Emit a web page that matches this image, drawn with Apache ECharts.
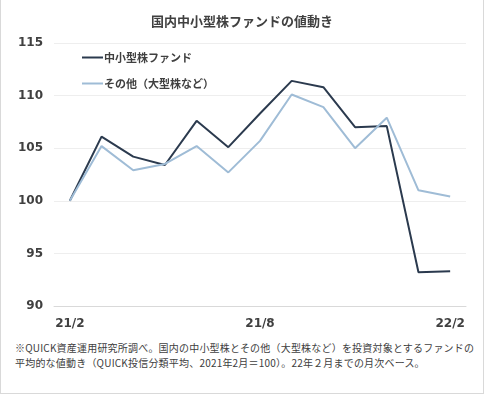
<!DOCTYPE html>
<html><head><meta charset="utf-8">
<script src="https://cdn.jsdelivr.net/npm/echarts@6/dist/echarts.min.js"></script>
<style>
html,body{margin:0;padding:0;background:#fff;}
#wrap{position:relative;width:482px;height:393px;border-left:1px solid #d9d9d9;border-right:1px solid #d9d9d9;border-bottom:1px solid #d9d9d9;}
#chart{position:absolute;left:0;top:0;width:482px;height:330px;}
#note{position:absolute;left:14px;top:340px;font-family:"Noto Sans CJK JP";font-size:10px;letter-spacing:0.2px;line-height:15px;color:#404040;white-space:nowrap;}
</style></head>
<body>
<div id="wrap"><div id="chart"></div>
<div id="note">※QUICK資産運用研究所調べ。国内の中小型株とその他（大型株など）を投資対象とするファンドの<br>平均的な値動き（QUICK投信分類平均、2021年2月＝100）。22年２月までの月次ベース。</div>
</div>
<script>
const categories = ['21/2','21/3','21/4','21/5','21/6','21/7','21/8','21/9','21/10','21/11','21/12','22/1','22/2'];
const smallMid = [100, 106.1, 104.2, 103.4, 107.6, 105.1, 108.3, 111.4, 110.8, 107.0, 107.1, 93.2, 93.3];
const others = [100, 105.2, 102.9, 103.5, 105.2, 102.7, 105.7, 110.1, 108.9, 105.0, 107.9, 101.0, 100.4];
const seriesNames = ['中小型株ファンド', 'その他（大型株など）'];
const title = '国内中小型株ファンドの値動き';

const chart = echarts.init(document.getElementById('chart'));
chart.setOption({
  animation: false,
  title: {text: title, left: 'center', top: 10,
    textStyle: {fontFamily: 'Noto Sans CJK JP', fontSize: 13, fontWeight: 'bold', color: '#404040'}},
  legend: {orient: 'vertical', left: 76, top: 47, itemGap: 15, itemWidth: 21, itemHeight: 2, icon: 'rect',
    textStyle: {fontFamily: 'Noto Sans CJK JP', fontSize: 11, fontWeight: 'bold', color: '#404040', padding: [0,0,0,-4]},
    data: seriesNames},
  grid: {left: 53, right: 17, top: 43, bottom: 23, containLabel: false},
  xAxis: {type: 'category', data: categories, boundaryGap: true,
    axisLine: {lineStyle: {color: '#d9d9d9'}},
    axisTick: {interval: 5, length: 4, lineStyle: {color: '#d9d9d9'}},
    axisLabel: {interval: 5, margin: 12, fontFamily: 'DejaVu Sans', fontSize: 12, fontWeight: 'bold', color: '#404040'}},
  yAxis: {type: 'value', min: 90, max: 115, interval: 5,
    axisLine: {show: false}, axisTick: {show: false},
    splitLine: {lineStyle: {color: '#eeeeee'}},
    axisLabel: {margin: 11, fontFamily: 'DejaVu Sans', fontSize: 12, fontWeight: 'bold', color: '#404040'}},
  series: [
    {name: seriesNames[0], type: 'line', data: smallMid, symbol: 'none',
      lineStyle: {width: 2, color: '#2b3a4e'}, itemStyle: {color: '#2b3a4e'}},
    {name: seriesNames[1], type: 'line', data: others, symbol: 'none',
      lineStyle: {width: 2, color: '#9fbcd6'}, itemStyle: {color: '#9fbcd6'}}
  ]
});
</script>
</body></html>
